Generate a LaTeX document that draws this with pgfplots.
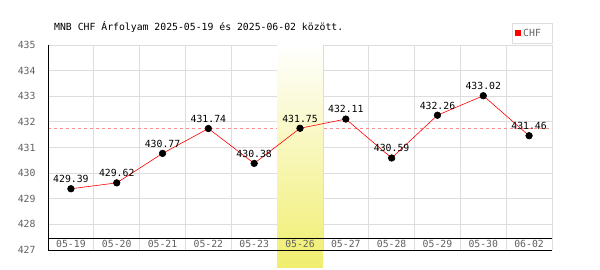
\documentclass[border=0pt]{standalone}
\usepackage{pgfplots}
\pgfplotsset{compat=1.18}
\usepackage{fontspec}
\setmainfont{DejaVu Sans Mono}
\usetikzlibrary{shadings}
\definecolor{gridc}{HTML}{DDDDDD}
\definecolor{tickc}{HTML}{606060}
\definecolor{bandc}{HTML}{F0EE6E}
\begin{document}
\fontsize{9.8}{11}\selectfont
\begin{tikzpicture}
\path (0pt,0pt) rectangle (600pt,270pt);
\begin{axis}[
  set layers=standard,
  at={(48pt,20pt)}, anchor=south west,
  width=504pt, height=205pt, scale only axis,
  xmin=-0.5, xmax=10.5, ymin=427, ymax=435,
  axis lines=none,
  clip=false,
  xtick={0,...,10},
  xticklabels={05-19,05-20,05-21,05-22,05-23,05-26,05-27,05-28,05-29,05-30,06-02},
  ytick={427,...,435},
  minor xtick={-0.5,0.5,...,10.5},
  xminorgrids, ymajorgrids,
  grid style={gridc, line width=0.8pt},
  minor grid style={gridc, line width=0.8pt},
  major tick length=0pt, minor tick length=0pt,
  hide x axis=false, hide y axis=false,
  tick label style={font=\fontsize{9.8}{11}\selectfont, text=tickc},
  xticklabel style={anchor=center, yshift=6pt},
  yticklabel style={anchor=east, xshift=-9pt},
  /pgf/number format/assume math mode=true,
]
\addplot[red!45, dashed, line width=0.6pt, forget plot, on layer=axis grid] coordinates {(-0.5,431.75) (10.5,431.75)};
\addplot[draw=none, top color=white, bottom color=bandc, forget plot, on layer=axis ticks] coordinates {(4.5,435) (5.5,435) (5.5,426.3) (4.5,426.3)} -- cycle;
\addplot[black, line width=0.8pt, forget plot, on layer=axis lines] coordinates {(-0.5,435) (-0.5,427.47) (10.5,427.47)};
\addplot[red, line width=0.6pt, mark=*, mark size=3.3pt,
  mark options={fill=black, draw=black},
  nodes near coords, point meta=explicit symbolic,
  every node near coord/.style={font=\fontsize{9.8}{11}\selectfont, text=black, anchor=south, yshift=2.5pt}]
  table[meta=l] {
x y l
0 429.39 429.39
1 429.62 429.62
2 430.77 430.77
3 431.74 431.74
4 430.38 430.38
5 431.75 431.75
6 432.11 432.11
7 430.59 430.59
8 432.26 432.26
9 433.02 433.02
10 431.46 431.46
};
\end{axis}
\node[anchor=west, inner sep=0pt] at (54pt,243pt) {MNB CHF Árfolyam 2025-05-19 és 2025-06-02 között.};
\draw[gridc, line width=0.8pt] (512pt,227pt) rectangle (552pt,247pt);
\fill[red] (515pt,234pt) rectangle (521pt,240pt);
\node[anchor=west, inner sep=0pt, text=tickc] at (523pt,237pt) {CHF};
\end{tikzpicture}
\end{document}
